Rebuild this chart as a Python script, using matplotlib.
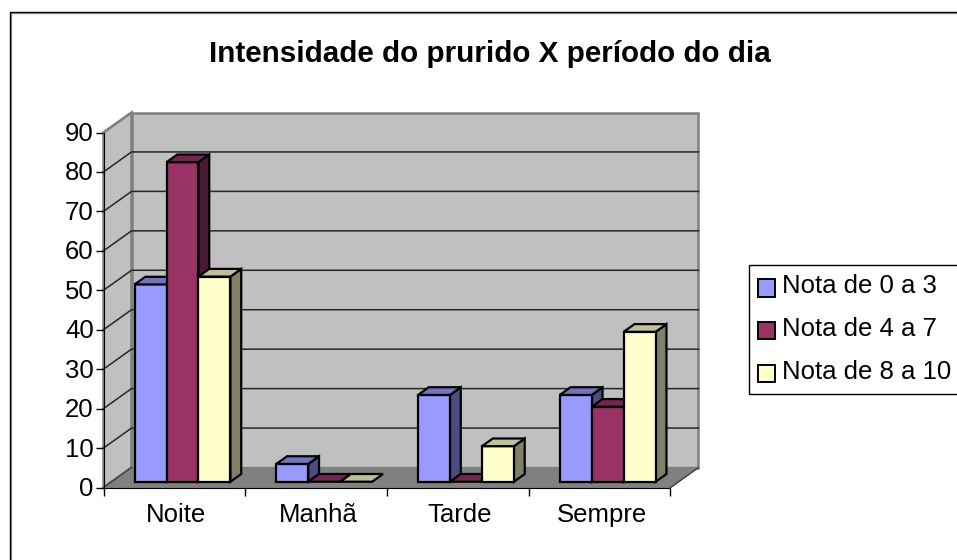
import matplotlib
matplotlib.use('Agg')
import matplotlib.pyplot as plt
from matplotlib.patches import Polygon, Patch, Rectangle
from matplotlib.lines import Line2D
from matplotlib.legend_handler import HandlerPatch
from matplotlib.transforms import ScaledTranslation

plt.rcParams['font.family'] = ['Liberation Sans', 'DejaVu Sans']

categorias = ['Noite', 'Manhã', 'Tarde', 'Sempre']
nota_0_3 = [50, 4.5, 22, 22]
nota_4_7 = [81, 0, 0, 19]
nota_8_10 = [52, 0, 9, 38]
series_nomes = ['Nota de 0 a 3', 'Nota de 4 a 7', 'Nota de 8 a 10']
yticks = list(range(0, 100, 10))

# front, top, side
cores = [('#9999FF', '#7373BF', '#4C4C80'),
         ('#993366', '#732650', '#4C1933'),
         ('#FFFFCC', '#BFBF99', '#808066')]

W, H = 957, 560
fig = plt.figure(figsize=(W / 100, H / 100), dpi=100, facecolor='white')

# pixel box of the front plane of the 3d chart
x0, x1, y0, y1 = 103.5, 670.5, 487.5, 132.5
ax = fig.add_axes([x0 / W, 1 - y0 / H, (x1 - x0) / W, (y0 - y1) / H])
ax.set_xlim(-0.5, 3.5)
ax.set_ylim(0, 90)
ax.patch.set_visible(False)
for s in ['top', 'right']:
    ax.spines[s].set_visible(False)

# depth of the box, in data units
DX = 28 / ((x1 - x0) / 4)
DY = 20 / ((y0 - y1) / 90)


def p3(x, y, d):
    return (x + d * DX, y + d * DY)


def face(pts, fc, ec='black', lw=1.6, z=3):
    ax.add_patch(Polygon(pts, closed=True, facecolor=fc, edgecolor=ec, linewidth=lw,
                         joinstyle='miter', clip_on=False, zorder=z))


# walls and floor
xa, xb = -0.5, 3.5
face([p3(xa, 0, 1), p3(xb, 0, 1), p3(xb, 90, 1), p3(xa, 90, 1)], '#C0C0C0', '#808080', 1.8, 1)
face([p3(xa, 0, 0), p3(xa, 0, 1), p3(xa, 90, 1), p3(xa, 90, 0)], '#C0C0C0', '#808080', 1.8, 1)
face([p3(xa, 0, 0), p3(xb, 0, 0), p3(xb, 0, 1), p3(xa, 0, 1)], '#808080', '#808080', 1, 1)

# gridlines on the wall, carried round the side wall to the axis
for v in yticks[1:-1]:
    ax.plot([xa, p3(xa, v, 1)[0], p3(xb, v, 1)[0]], [v, v + DY, v + DY], color='#262626',
            lw=1.1, clip_on=False, zorder=2)
ax.plot([xa, p3(xa, 0, 1)[0]], [0, DY], color='#404040', lw=1, clip_on=False, zorder=2)
ax.plot([xb, p3(xb, 0, 1)[0]], [0, DY], color='#404040', lw=1, clip_on=False, zorder=2)
ax.plot([xa, p3(xa, 90, 1)[0]], [90, 90 + DY], color='#808080', lw=1.4, clip_on=False, zorder=2)

# bars
bar_w = 0.2255
d_ini, d_fim = 0.29, 0.675
for c in range(len(categorias)):
    for i, vals in enumerate([nota_0_3, nota_4_7, nota_8_10]):
        v = vals[c]
        l = c - 1.5 * bar_w + i * bar_w
        r = l + bar_w
        fr, to, si = cores[i]
        if v > 0:
            face([p3(r, 0, d_ini), p3(r, 0, d_fim), p3(r, v, d_fim), p3(r, v, d_ini)], si)
            face([p3(l, 0, d_ini), p3(r, 0, d_ini), p3(r, v, d_ini), p3(l, v, d_ini)], fr)
        face([p3(l, v, d_ini), p3(r, v, d_ini), p3(r, v, d_fim), p3(l, v, d_fim)], to)

# axes
ax.set_yticks(yticks)
ax.set_xticks([-0.5, 0.5, 1.5, 2.5, 3.5])
ax.set_xticklabels([])
ax.set_xticks(range(4), categorias, minor=True)
ax.tick_params(axis='x', which='major', length=6, width=1)
ax.tick_params(axis='x', which='minor', length=0, labelsize=18.5, pad=11)
ax.tick_params(axis='y', length=6, width=1, labelsize=18.5, pad=1)
ax.spines['left'].set_zorder(5)
ax.spines['bottom'].set_zorder(5)

# labels sit a touch off the tick centre in the original
for t in ax.get_xticklabels(minor=True):
    t.set_transform(t.get_transform() + ScaledTranslation(2 / 100, 0, fig.dpi_scale_trans))
for t in ax.get_yticklabels():
    t.set_transform(t.get_transform() + ScaledTranslation(0, 1 / 100, fig.dpi_scale_trans))

fig.text(490 / W, 1 - 54 / H, 'Intensidade do prurido X período do dia', ha='center', va='center',
         fontsize=21.3, fontweight='bold')

# chart border, only top and left reach the picture
fig.add_artist(Line2D([10.5 / W, 10.5 / W, 1], [0, 1 - 13 / H, 1 - 13 / H], color='#A0A0A0', lw=1))
fig.add_artist(Line2D([9.5 / W, 9.5 / W, 1], [0, 1 - 12 / H, 1 - 12 / H], color='black', lw=1))


def caixa(legend, orig_handle, xdescent, ydescent, width, height, fontsize):
    # boxes sit about 3 px below the text middle
    return Rectangle((-xdescent, -ydescent - 2.6), width, height)


handles = [Patch(facecolor=cores[i][0], edgecolor='black', linewidth=1.4, label=series_nomes[i])
           for i in range(3)]
leg = fig.legend(handles=handles, loc='upper left', bbox_to_anchor=(748.5 / W, 1 - 264.5 / H),
                 frameon=True, fancybox=False, edgecolor='black', framealpha=1, fontsize=18.5,
                 handlelength=0.66, handleheight=0.66, handletextpad=0.25, labelspacing=0.73,
                 borderaxespad=0, borderpad=0.38,
                 handler_map={Patch: HandlerPatch(patch_func=caixa)})
leg.get_frame().set_linewidth(1)

fig.savefig('out.png', dpi=100)
